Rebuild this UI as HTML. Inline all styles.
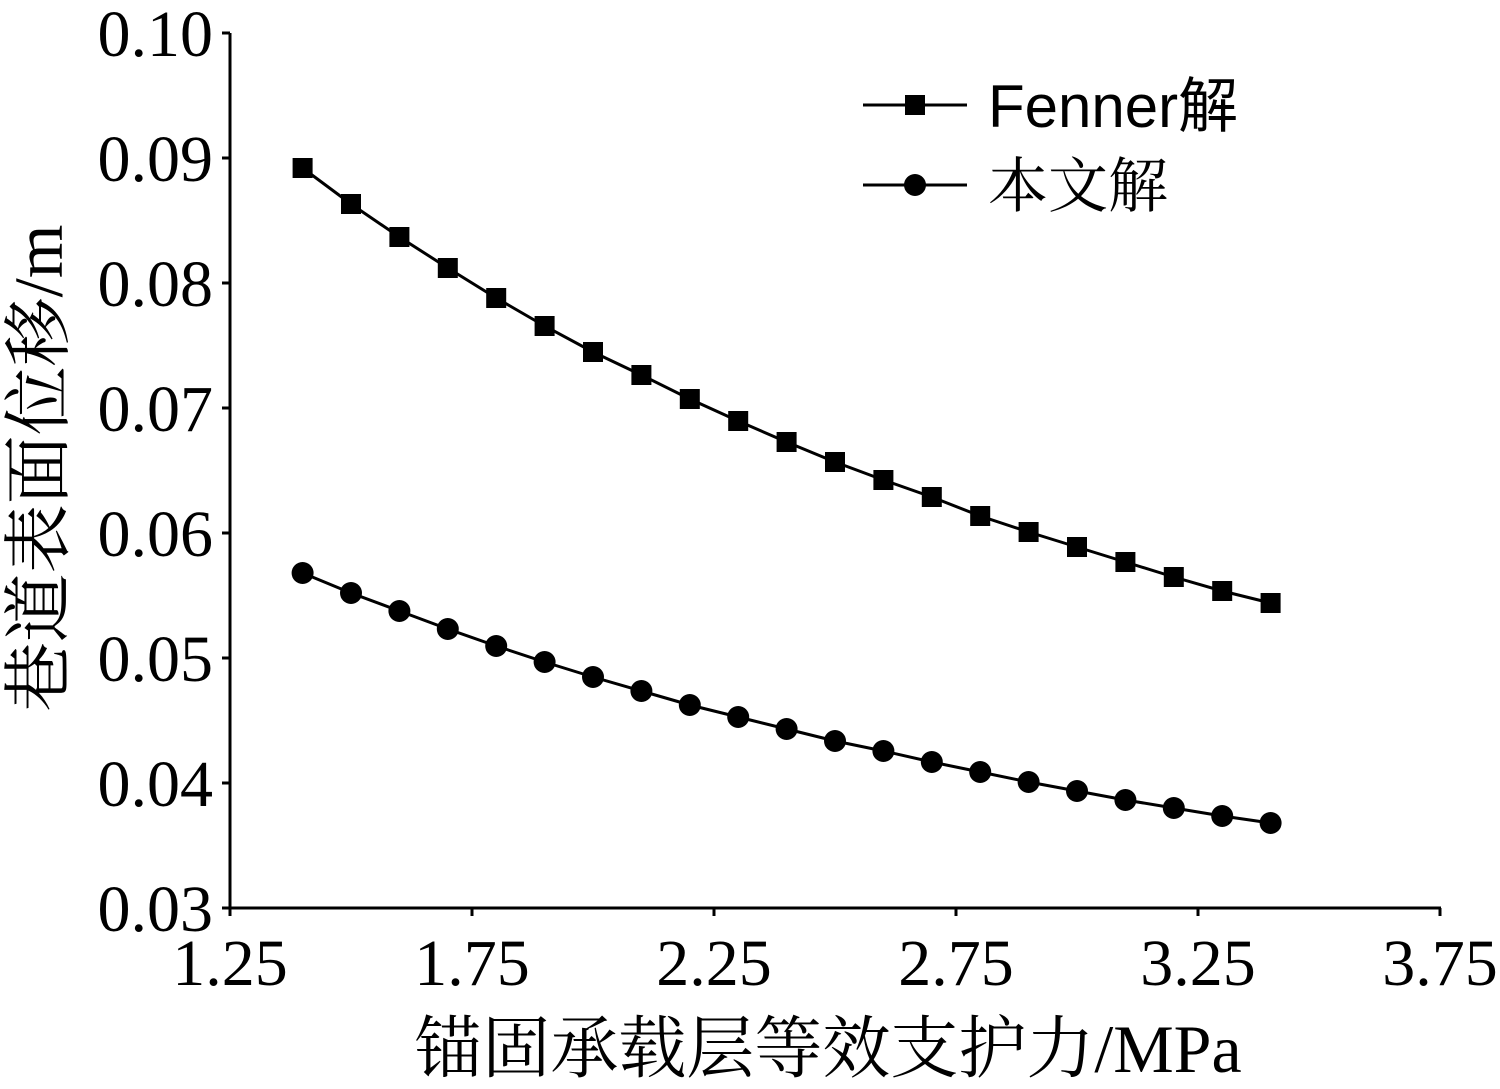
<!DOCTYPE html>
<html><head><meta charset="utf-8"><style>
html,body{margin:0;padding:0;background:#fff;}
svg{display:block;}
</style></head><body>
<svg width="1500" height="1089" viewBox="0 0 1500 1089" xmlns="http://www.w3.org/2000/svg">
<g stroke="#000" stroke-width="3" fill="none">
<line x1="230" y1="33" x2="230" y2="909"/>
<line x1="229" y1="908" x2="1441" y2="908"/>
<line x1="222" y1="33" x2="230" y2="33"/>
<line x1="222" y1="158" x2="230" y2="158"/>
<line x1="222" y1="283" x2="230" y2="283"/>
<line x1="222" y1="408" x2="230" y2="408"/>
<line x1="222" y1="533" x2="230" y2="533"/>
<line x1="222" y1="658" x2="230" y2="658"/>
<line x1="222" y1="783" x2="230" y2="783"/>
<line x1="222" y1="908" x2="230" y2="908"/>
<line x1="230" y1="908" x2="230" y2="916"/>
<line x1="472" y1="908" x2="472" y2="916"/>
<line x1="714" y1="908" x2="714" y2="916"/>
<line x1="956" y1="908" x2="956" y2="916"/>
<line x1="1198" y1="908" x2="1198" y2="916"/>
<line x1="1440" y1="908" x2="1440" y2="916"/>
</g>
<g font-family="Liberation Serif, serif" font-size="66" fill="#000" text-anchor="end">
<text x="213" y="56">0.10</text>
<text x="213" y="181">0.09</text>
<text x="213" y="306">0.08</text>
<text x="213" y="431">0.07</text>
<text x="213" y="556">0.06</text>
<text x="213" y="681">0.05</text>
<text x="213" y="806">0.04</text>
<text x="213" y="931">0.03</text>
</g>
<g font-family="Liberation Serif, serif" font-size="66" fill="#000" text-anchor="middle">
<text x="230" y="985">1.25</text>
<text x="472" y="985">1.75</text>
<text x="714" y="985">2.25</text>
<text x="956" y="985">2.75</text>
<text x="1198" y="985">3.25</text>
<text x="1440" y="985">3.75</text>
</g>
<text x="828" y="1072" text-anchor="middle" font-family="Liberation Serif, 'Noto Serif CJK SC', serif" font-size="68">锚固承载层等效支护力/MPa</text>
<text transform="translate(62,468) rotate(-90)" text-anchor="middle" font-family="Liberation Serif, 'Noto Serif CJK SC', serif" font-size="69">巷道表面位移/m</text>
<polyline fill="none" stroke="#000" stroke-width="3" points="302.6,168 351,204 399.4,237 447.8,268 496.2,298 544.6,326 593,352 641.4,375 689.8,399 738.2,421 786.6,442 835,462 883.4,480 931.8,497 980.2,516 1028.6,532 1077,547 1125.4,562 1173.8,577 1222.2,591 1270.6,603"/>
<polyline fill="none" stroke="#000" stroke-width="3" points="302.6,573 351,593 399.4,611 447.8,629 496.2,646 544.6,662 593,677 641.4,691 689.8,705 738.2,717 786.6,729 835,741 883.4,751 931.8,762 980.2,772 1028.6,782 1077,791 1125.4,800 1173.8,808 1222.2,816 1270.6,823"/>
<g fill="#000">
<rect x="292.6" y="158" width="20" height="20"/><rect x="341" y="194" width="20" height="20"/><rect x="389.4" y="227" width="20" height="20"/><rect x="437.8" y="258" width="20" height="20"/><rect x="486.2" y="288" width="20" height="20"/><rect x="534.6" y="316" width="20" height="20"/><rect x="583" y="342" width="20" height="20"/><rect x="631.4" y="365" width="20" height="20"/><rect x="679.8" y="389" width="20" height="20"/><rect x="728.2" y="411" width="20" height="20"/><rect x="776.6" y="432" width="20" height="20"/><rect x="825" y="452" width="20" height="20"/><rect x="873.4" y="470" width="20" height="20"/><rect x="921.8" y="487" width="20" height="20"/><rect x="970.2" y="506" width="20" height="20"/><rect x="1018.6" y="522" width="20" height="20"/><rect x="1067" y="537" width="20" height="20"/><rect x="1115.4" y="552" width="20" height="20"/><rect x="1163.8" y="567" width="20" height="20"/><rect x="1212.2" y="581" width="20" height="20"/><rect x="1260.6" y="593" width="20" height="20"/>
<circle cx="302.6" cy="573" r="11"/><circle cx="351" cy="593" r="11"/><circle cx="399.4" cy="611" r="11"/><circle cx="447.8" cy="629" r="11"/><circle cx="496.2" cy="646" r="11"/><circle cx="544.6" cy="662" r="11"/><circle cx="593" cy="677" r="11"/><circle cx="641.4" cy="691" r="11"/><circle cx="689.8" cy="705" r="11"/><circle cx="738.2" cy="717" r="11"/><circle cx="786.6" cy="729" r="11"/><circle cx="835" cy="741" r="11"/><circle cx="883.4" cy="751" r="11"/><circle cx="931.8" cy="762" r="11"/><circle cx="980.2" cy="772" r="11"/><circle cx="1028.6" cy="782" r="11"/><circle cx="1077" cy="791" r="11"/><circle cx="1125.4" cy="800" r="11"/><circle cx="1173.8" cy="808" r="11"/><circle cx="1222.2" cy="816" r="11"/><circle cx="1270.6" cy="823" r="11"/>
</g>
<line x1="863" y1="105" x2="967" y2="105" stroke="#000" stroke-width="3"/>
<rect x="905" y="95" width="20" height="20" fill="#000"/>
<line x1="863" y1="185" x2="967" y2="185" stroke="#000" stroke-width="3"/>
<circle cx="915" cy="185" r="11" fill="#000"/>
<text x="988" y="127" font-family="Liberation Sans, 'Noto Sans CJK SC', sans-serif" font-size="60">Fenner解</text>
<text x="988" y="207" font-family="Liberation Serif, 'Noto Serif CJK SC', serif" font-size="60">本文解</text>
</svg>
</body></html>
